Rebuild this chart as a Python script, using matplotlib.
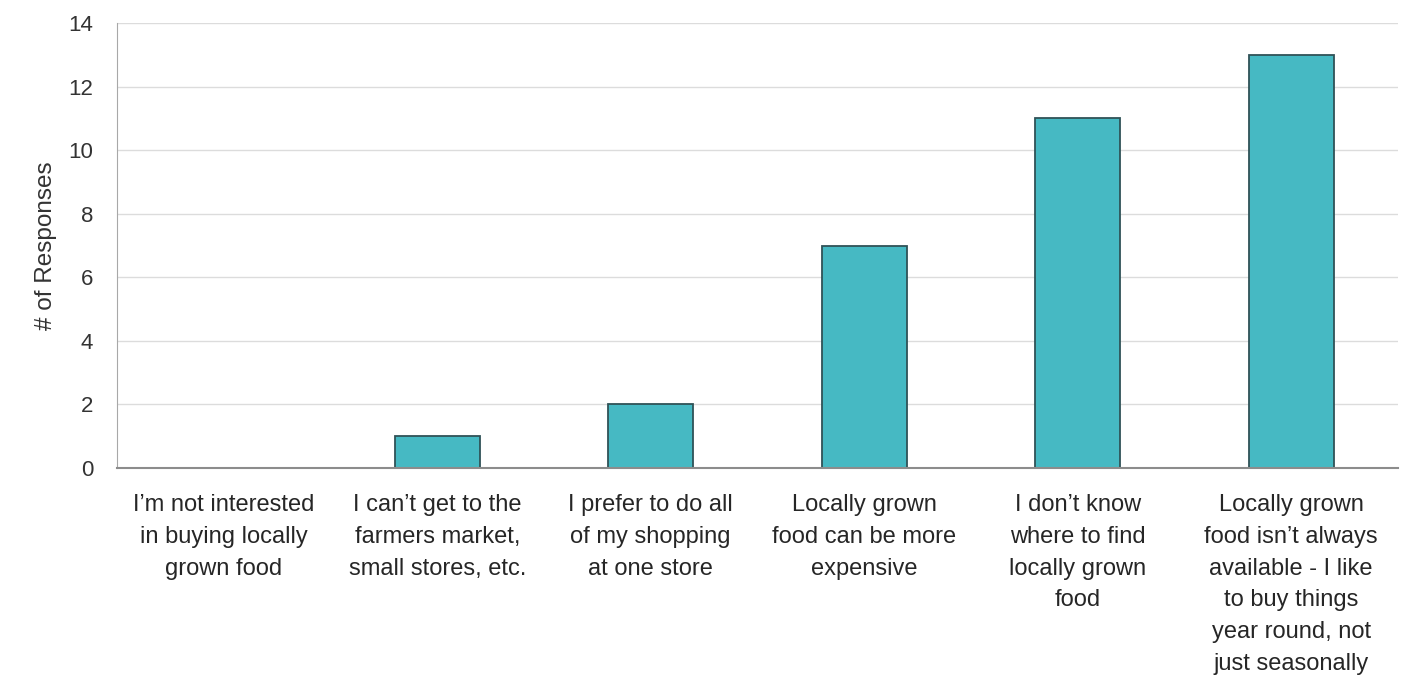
import matplotlib
matplotlib.use("Agg")
import matplotlib.pyplot as plt

# Reasons for not buying locally grown food
categories = [
    "I\u2019m not interested\nin buying locally\ngrown food",
    "I can\u2019t get to the\nfarmers market,\nsmall stores, etc.",
    "I prefer to do all\nof my shopping\nat one store",
    "Locally grown\nfood can be more\nexpensive",
    "I don\u2019t know\nwhere to find\nlocally grown\nfood",
    "Locally grown\nfood isn\u2019t always\navailable - I like\nto buy things\nyear round, not\njust seasonally",
]
responses = [0, 1, 2, 7, 11, 13]
y_ticks = [0, 2, 4, 6, 8, 10, 12, 14]

fig = plt.figure(figsize=(14.21, 6.81), dpi=100)
ax = fig.add_axes([0.0823, 0.3128, 0.9015, 0.6534])

x = list(range(len(categories)))
ax.bar(x, responses, width=0.40, color="#46b9c3", edgecolor="#2f5257",
       linewidth=1.3, zorder=3)

ax.set_xlim(-0.5, len(categories) - 0.5)
ax.set_ylim(0, 14)
ax.set_yticks(y_ticks)
ax.set_yticklabels([str(v) for v in y_ticks], fontsize=16,
                   family="Liberation Sans", color="#333333")
ax.set_xticks(x)
ax.set_xticklabels(categories, fontsize=17, family="Liberation Sans",
                   color="#262626", linespacing=1.57)
ax.tick_params(axis="both", length=0)
ax.tick_params(axis="x", pad=19)
ax.tick_params(axis="y", pad=17)

ax.grid(axis="y", color="#dcdcdc", linewidth=1.0, zorder=0)
for side in ("top", "right"):
    ax.spines[side].set_visible(False)
ax.spines["left"].set_color("#a8a8a8")
ax.spines["bottom"].set_color("#8c8c8c")
ax.spines["bottom"].set_linewidth(1.5)
ax.spines["bottom"].set_zorder(5)

ax.set_ylabel("# of Responses", fontsize=17.5, family="Liberation Sans",
              color="#333333", labelpad=8)

fig.savefig("out.png", dpi=100)
